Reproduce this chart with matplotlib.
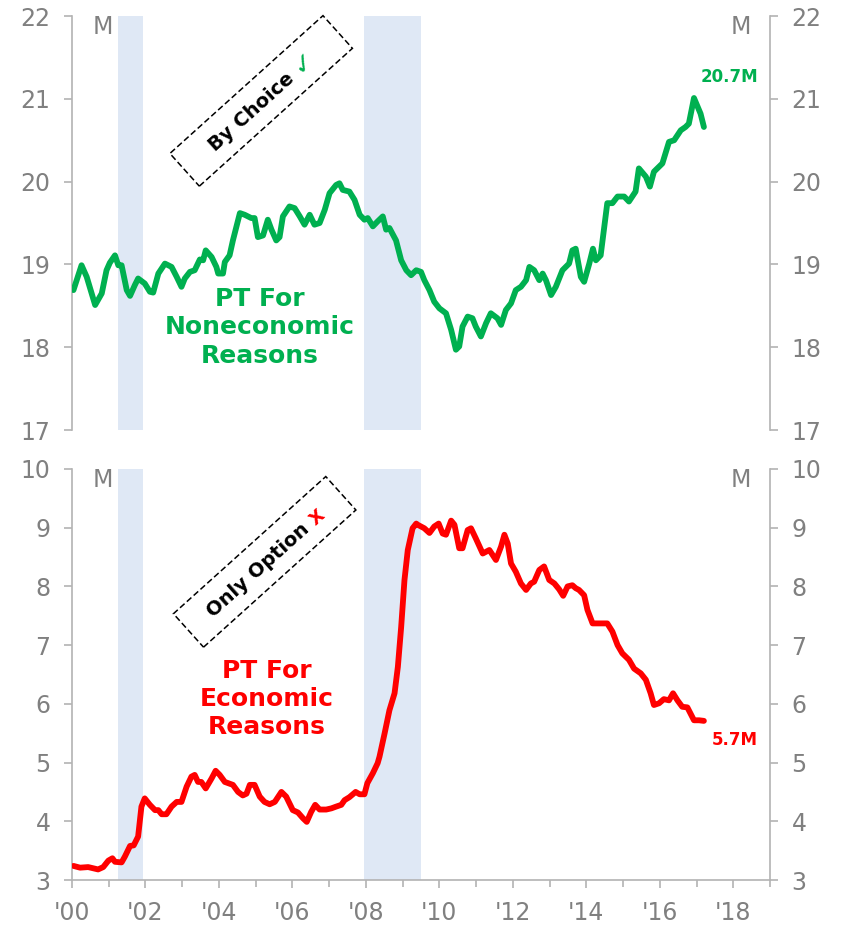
import matplotlib
matplotlib.use('Agg')
import matplotlib.pyplot as plt
import matplotlib.transforms as mtransforms
from matplotlib.patches import Rectangle
import numpy as np

#===============
#  Data (millions)
#===============
noneco_years = [2000.04, 2000.26, 2000.40, 2000.63, 2000.81, 2000.94, 2001.03, 2001.17, 2001.26, 2001.35,
                2001.49, 2001.58, 2001.71, 2001.80, 2001.98, 2002.12, 2002.21, 2002.35, 2002.53, 2002.71,
                2002.85, 2002.98, 2003.07, 2003.21, 2003.34, 2003.48, 2003.57, 2003.64, 2003.80, 2003.93,
                2003.98, 2004.11, 2004.16, 2004.29, 2004.38, 2004.57, 2004.70, 2004.88, 2004.97, 2005.06,
                2005.20, 2005.33, 2005.43, 2005.56, 2005.65, 2005.74, 2005.92, 2006.06, 2006.20, 2006.33,
                2006.47, 2006.60, 2006.74, 2006.88, 2007.01, 2007.19, 2007.28, 2007.37, 2007.55, 2007.69,
                2007.83, 2007.96, 2008.05, 2008.19, 2008.32, 2008.46, 2008.55, 2008.64, 2008.82, 2008.96,
                2009.10, 2009.23, 2009.37, 2009.50, 2009.59, 2009.73, 2009.86, 2010.00, 2010.18, 2010.32,
                2010.45, 2010.54, 2010.63, 2010.77, 2010.90, 2010.99, 2011.13, 2011.27, 2011.40, 2011.58,
                2011.68, 2011.81, 2011.95, 2012.08, 2012.22, 2012.36, 2012.45, 2012.58, 2012.72, 2012.81,
                2012.90, 2013.04, 2013.17, 2013.35, 2013.53, 2013.62, 2013.71, 2013.85, 2013.94, 2014.08,
                2014.18, 2014.26, 2014.39, 2014.48, 2014.57, 2014.71, 2014.85, 2015.03, 2015.16, 2015.34,
                2015.43, 2015.62, 2015.73, 2015.84, 2016.07, 2016.25, 2016.39, 2016.57, 2016.70, 2016.79,
                2016.93, 2017.11, 2017.20]
noneco_vals = [18.69, 18.99, 18.85, 18.51, 18.65, 18.93, 19.02, 19.11, 18.99, 18.99,
               18.69, 18.62, 18.75, 18.83, 18.77, 18.67, 18.66, 18.89, 19.01, 18.97,
               18.85, 18.73, 18.83, 18.91, 18.93, 19.06, 19.05, 19.17, 19.09, 18.97,
               18.89, 18.89, 19.03, 19.11, 19.29, 19.62, 19.60, 19.56, 19.56, 19.33,
               19.35, 19.54, 19.42, 19.29, 19.33, 19.58, 19.70, 19.68, 19.58, 19.48,
               19.60, 19.48, 19.50, 19.66, 19.86, 19.96, 19.98, 19.90, 19.88, 19.78,
               19.60, 19.54, 19.56, 19.46, 19.52, 19.58, 19.42, 19.44, 19.29, 19.05,
               18.93, 18.87, 18.93, 18.91, 18.81, 18.69, 18.55, 18.47, 18.41, 18.21,
               17.97, 18.01, 18.25, 18.37, 18.35, 18.25, 18.13, 18.29, 18.41, 18.35,
               18.27, 18.45, 18.53, 18.69, 18.73, 18.81, 18.97, 18.93, 18.81, 18.89,
               18.81, 18.63, 18.73, 18.93, 19.01, 19.17, 19.19, 18.85, 18.79, 19.01,
               19.19, 19.05, 19.11, 19.42, 19.74, 19.74, 19.82, 19.82, 19.76, 19.88,
               20.16, 20.06, 19.94, 20.12, 20.22, 20.48, 20.50, 20.62, 20.66, 20.70,
               21.01, 20.82, 20.66]

eco_years = [2000.04, 2000.22, 2000.44, 2000.71, 2000.85, 2000.99, 2001.10, 2001.17, 2001.35, 2001.44,
             2001.58, 2001.68, 2001.80, 2001.89, 2001.98, 2002.12, 2002.26, 2002.35, 2002.44, 2002.57,
             2002.71, 2002.85, 2002.98, 2003.12, 2003.25, 2003.34, 2003.43, 2003.52, 2003.64, 2003.80,
             2003.91, 2004.02, 2004.16, 2004.29, 2004.38, 2004.52, 2004.65, 2004.75, 2004.84, 2004.97,
             2005.11, 2005.24, 2005.38, 2005.52, 2005.70, 2005.83, 2006.01, 2006.15, 2006.29, 2006.39,
             2006.51, 2006.62, 2006.74, 2006.92, 2007.06, 2007.19, 2007.33, 2007.42, 2007.55, 2007.72,
             2007.83, 2007.96, 2008.04, 2008.19, 2008.32, 2008.37, 2008.51, 2008.64, 2008.78, 2008.87,
             2008.96, 2009.05, 2009.14, 2009.27, 2009.37, 2009.41, 2009.59, 2009.73, 2009.86, 2009.98,
             2010.09, 2010.18, 2010.32, 2010.41, 2010.54, 2010.63, 2010.77, 2010.86, 2010.99, 2011.18,
             2011.36, 2011.54, 2011.68, 2011.77, 2011.86, 2011.95, 2012.08, 2012.22, 2012.36, 2012.49,
             2012.58, 2012.72, 2012.85, 2012.99, 2013.13, 2013.26, 2013.37, 2013.49, 2013.62, 2013.71,
             2013.80, 2013.94, 2014.03, 2014.17, 2014.35, 2014.57, 2014.71, 2014.85, 2014.98, 2015.16,
             2015.30, 2015.48, 2015.62, 2015.75, 2015.84, 2015.98, 2016.11, 2016.25, 2016.36, 2016.48,
             2016.61, 2016.75, 2016.93, 2017.07, 2017.20]
eco_vals = [3.24, 3.21, 3.22, 3.18, 3.22, 3.33, 3.37, 3.31, 3.30, 3.40,
            3.58, 3.59, 3.74, 4.25, 4.39, 4.28, 4.19, 4.19, 4.12, 4.12,
            4.25, 4.33, 4.33, 4.59, 4.76, 4.79, 4.67, 4.67, 4.56, 4.73,
            4.86, 4.79, 4.67, 4.64, 4.62, 4.50, 4.44, 4.47, 4.62, 4.62,
            4.42, 4.33, 4.29, 4.33, 4.50, 4.42, 4.19, 4.15, 4.05, 3.99,
            4.16, 4.28, 4.20, 4.20, 4.22, 4.25, 4.28, 4.36, 4.41, 4.50,
            4.46, 4.46, 4.65, 4.82, 4.99, 5.10, 5.50, 5.89, 6.18, 6.63,
            7.31, 8.11, 8.62, 8.99, 9.07, 9.05, 8.99, 8.91, 9.02, 9.07,
            8.90, 8.88, 9.12, 9.05, 8.65, 8.65, 8.96, 8.99, 8.82, 8.56,
            8.62, 8.45, 8.68, 8.88, 8.73, 8.39, 8.25, 8.05, 7.94, 8.05,
            8.08, 8.28, 8.34, 8.11, 8.05, 7.95, 7.84, 8.00, 8.02, 7.97,
            7.94, 7.85, 7.60, 7.37, 7.37, 7.37, 7.23, 7.00, 6.86, 6.75,
            6.60, 6.52, 6.41, 6.18, 5.98, 6.01, 6.08, 6.06, 6.18, 6.06,
            5.95, 5.94, 5.72, 5.72, 5.71]

recessions = [(2001.25, 2001.92), (2007.96, 2009.5)]
xtick_years = list(range(2000, 2019, 2))
xtick_labels = ["'%02d" % (y - 2000) for y in xtick_years]

GREEN = '#00b050'
RED = '#ff0000'
GRAY = '#808080'
SPINE = '#b3b3b3'
BAND = '#dfe8f5'

fig = plt.figure(figsize=(8.46, 9.27), dpi=100)
ax1 = fig.add_axes([0.0851, 0.5361, 0.8251, 0.4466])
ax2 = fig.add_axes([0.0851, 0.0507, 0.8251, 0.4434])


def style_axis(ax, ylo, yhi, show_x):
    ax.set_xlim(2000, 2019)
    ax.set_ylim(ylo, yhi)
    ax.set_yticks(range(ylo, yhi + 1))
    ax.spines['top'].set_visible(False)
    for s in ['left', 'right', 'bottom']:
        ax.spines[s].set_color(SPINE)
        ax.spines[s].set_linewidth(1.2)
    ax.tick_params(axis='y', left=True, right=True, labelleft=True, labelright=True,
                   direction='out', length=5.5, width=1.2, color=SPINE,
                   labelcolor=GRAY, labelsize=17, pad=10)
    if show_x:
        ax.set_xticks(xtick_years)
        ax.set_xticklabels(xtick_labels)
        ax.set_xticks(range(2001, 2020, 2), minor=True)
        ax.tick_params(axis='x', which='both', direction='out', width=1.2, color=SPINE,
                       labelcolor=GRAY, labelsize=17, pad=9)
        ax.tick_params(axis='x', which='major', length=6)
        ax.tick_params(axis='x', which='minor', length=5)
    else:
        ax.spines['bottom'].set_visible(False)
        ax.tick_params(axis='x', bottom=False, labelbottom=False)
    for a, b in recessions:
        ax.axvspan(a, b, color=BAND, lw=0, zorder=0)
    ax.text(0.044, 0.973, 'M', transform=ax.transAxes, ha='center', va='center',
            color=GRAY, fontsize=17)
    ax.text(0.958, 0.973, 'M', transform=ax.transAxes, ha='center', va='center',
            color=GRAY, fontsize=17)


def boxed_note(ax, cx, cy, parts, angle, box_w, box_h):
    # rotated dashed box with multi-colour text, sizes in pixels
    r = fig.canvas.get_renderer()
    widths = []
    for s, c, w, sz in parts:
        t = fig.text(0, 0, s, fontsize=sz, fontweight=w)
        widths.append(t.get_window_extent(r).width)
        t.remove()
    size = parts[0][3]
    gap = size * fig.dpi / 72 * 0.35
    total = sum(widths) + gap * (len(parts) - 1)
    th = np.radians(angle)
    ux, uy = np.cos(th), np.sin(th)
    base = mtransforms.ScaledTranslation(cx, cy, ax.transAxes)
    half_cap = size * fig.dpi / 72 * 0.36
    pos = -total / 2
    for (s, c, w, sz), wd in zip(parts, widths):
        x = pos * ux + half_cap * uy
        y = pos * uy - half_cap * ux
        ax.text(x, y, s, transform=base, color=c, fontsize=sz, fontweight=w,
                rotation=angle, rotation_mode='anchor', ha='left', va='baseline')
        pos += wd + gap
    rect = Rectangle((-box_w / 2, -box_h / 2), box_w, box_h, angle=angle,
                     rotation_point='center', transform=base, fill=False,
                     ec='black', lw=1.1, ls=(0, (4, 2)), clip_on=False)
    ax.add_artist(rect)


#===============
#  Top panel: part-time for noneconomic reasons
#===============
style_axis(ax1, 17, 22, False)
ax1.plot(noneco_years, noneco_vals, color=GREEN, lw=4.2, solid_capstyle='round', zorder=3)
ax1.text(2005.11, 18.24, 'PT For\nNoneconomic\nReasons', color=GREEN, fontsize=18,
         fontweight='bold', ha='center', va='center', linespacing=1.22)
ax1.text(2017.9, 21.26, '20.7M', color=GREEN, fontsize=12, fontweight='bold',
         ha='center', va='center')
boxed_note(ax1, 0.271, 0.795,
           [('By Choice', 'black', 'bold', 14), ('\u2713', GREEN, 'normal', 19)],
           42, 206, 44)

#===============
#  Bottom panel: part-time for economic reasons
#===============
style_axis(ax2, 3, 10, True)
ax2.plot(eco_years, eco_vals, color=RED, lw=4.2, solid_capstyle='round', zorder=3)
ax2.text(2005.31, 6.08, 'PT For\nEconomic\nReasons', color=RED, fontsize=18,
         fontweight='bold', ha='center', va='center', linespacing=1.22)
ax2.text(2018.04, 5.38, '5.7M', color=RED, fontsize=12, fontweight='bold',
         ha='center', va='center')
boxed_note(ax2, 0.276, 0.774,
           [('Only Option', 'black', 'bold', 14), ('X', RED, 'bold', 13)],
           42, 205, 45)

fig.savefig('out.png', dpi=100)
